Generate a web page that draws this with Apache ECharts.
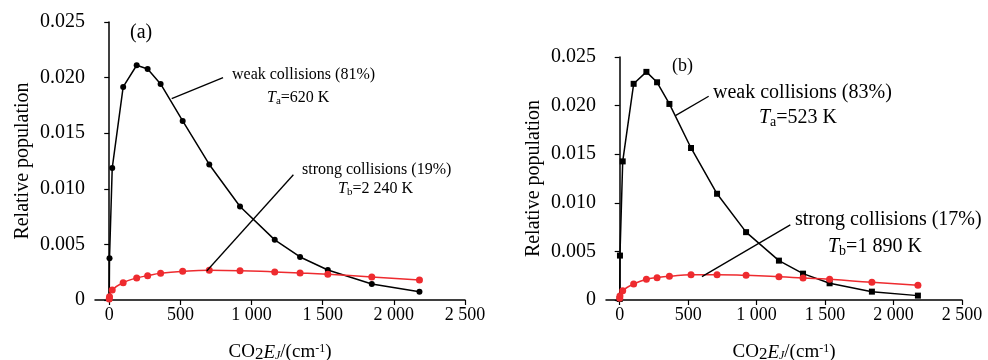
<!DOCTYPE html>
<html>
<head>
<meta charset="utf-8">
<script src="https://cdn.jsdelivr.net/npm/echarts@6/dist/echarts.min.js"></script>
<style>
  html, body { margin: 0; padding: 0; background: #fff; }
  #chart { width: 988px; height: 360px; }
</style>
</head>
<body>
<div id="chart"></div>
<script>
  // rotational energies (cm-1) and populations
  var energyA = [0, 2, 21, 98, 193, 270, 361, 516, 703, 919, 1163, 1341, 1536, 1845, 2180];
  var weakA = [0.0001, 0.00376, 0.01186, 0.01916, 0.02111, 0.02078, 0.01943, 0.0161, 0.01219, 0.00841, 0.00541, 0.00387, 0.0027, 0.00144, 0.00075];
  var strongA = [0.0001, 0.0003, 0.0009, 0.00156, 0.00198, 0.00219, 0.0024, 0.00258, 0.00267, 0.00264, 0.00252, 0.00243, 0.00231, 0.00207, 0.0018];

  var energyB = [0, 2, 22, 102, 195, 273, 363, 521, 711, 923, 1163, 1339, 1533, 1842, 2178];
  var weakB = [0.0001, 0.00457, 0.01426, 0.02224, 0.02347, 0.0224, 0.02017, 0.01564, 0.01093, 0.00698, 0.00405, 0.00271, 0.00172, 0.00086, 0.00045];
  var strongB = [0.00017, 0.0004, 0.00096, 0.00165, 0.00213, 0.0023, 0.00244, 0.00261, 0.00261, 0.00254, 0.0024, 0.00227, 0.00213, 0.00182, 0.00151];

  var xTicks = [0, 500, 1000, 1500, 2000, 2500];

  var FONT = 'Liberation Serif';
  var RED = '#ee2b2f';

  function pairs(xs, ys) {
    return xs.map(function (x, i) { return [x, ys[i]]; });
  }

  function fmtX(v) {
    return String(v).replace(/(\d)(\d{3})$/, '$1 $2');
  }

  function fmtY(v) {
    return v === 0 ? '0' : v.toFixed(3);
  }

  function xAxisOf(idx) {
    return {
      gridIndex: idx,
      type: 'value',
      min: -100,
      max: 2500,
      splitLine: { show: false },
      axisLine: { onZero: false, lineStyle: { color: '#000', width: 1.5 } },
      axisTick: { customValues: xTicks, length: 5, lineStyle: { color: '#000', width: 1.2 } },
      axisLabel: { customValues: xTicks, formatter: fmtX, color: '#000', fontFamily: FONT, fontSize: 18, margin: 6 },
      name: '{n|CO}{s|2}{i|E}{is|J}{n|/(cm}{sup|-1}{n|)}',
      nameLocation: 'middle',
      nameGap: 42,
      nameTextStyle: {
        rich: {
          n: { fontFamily: FONT, fontSize: 19, color: '#000' },
          s: { fontFamily: FONT, fontSize: 17, color: '#000', padding: [4, 0, 0, 0] },
          i: { fontFamily: FONT, fontSize: 19, fontStyle: 'italic', color: '#000' },
          is: { fontFamily: FONT, fontSize: 12, fontStyle: 'italic', color: '#000', padding: [7, 0, 0, 0] },
          sup: { fontFamily: FONT, fontSize: 12, color: '#000', padding: [0, 0, 8, 0] }
        }
      }
    };
  }

  function yAxisOf(idx) {
    return {
      gridIndex: idx,
      type: 'value',
      min: 0,
      max: 0.025,
      interval: 0.005,
      splitLine: { show: false },
      axisLine: { show: true, lineStyle: { color: '#000', width: 1.5 } },
      axisTick: { show: true, length: 5, lineStyle: { color: '#000', width: 1.2 } },
      axisLabel: { formatter: fmtY, color: '#000', fontFamily: FONT, fontSize: 20, margin: 10 },
      name: 'Relative population',
      nameLocation: 'middle',
      nameRotate: 90,
      nameGap: 62,
      nameTextStyle: { fontFamily: FONT, fontSize: 20, color: '#000' }
    };
  }

  function leader(from, to) {
    return {
      silent: true,
      symbol: 'none',
      lineStyle: { color: '#000', width: 1.3, type: 'solid' },
      label: { show: false },
      animation: false,
      data: [[{ coord: from }, { coord: to }]]
    };
  }

  var myChart = echarts.init(document.getElementById('chart'));

  var option = {
    backgroundColor: '#fff',
    animation: false,
    grid: [
      { left: 95, top: 22, width: 370, height: 278, outerBoundsMode: 'none' },
      { left: 606, top: 57, width: 356, height: 243, outerBoundsMode: 'none' }
    ],
    xAxis: [xAxisOf(0), xAxisOf(1)],
    yAxis: [yAxisOf(0), yAxisOf(1)],
    series: [
      {
        type: 'line', xAxisIndex: 0, yAxisIndex: 0,
        data: pairs(energyA, weakA),
        symbol: 'circle', symbolSize: 6,
        itemStyle: { color: '#000' },
        lineStyle: { color: '#000', width: 1.5 },
        markLine: leader([439, 0.01811], [800, 0.0200])
      },
      {
        type: 'line', xAxisIndex: 0, yAxisIndex: 0,
        data: pairs(energyA, strongA),
        smooth: true,
        symbol: 'circle', symbolSize: 7,
        itemStyle: { color: RED },
        lineStyle: { color: RED, width: 1.5 },
        markLine: leader([685, 0.00261], [1294, 0.01126])
      },
      {
        type: 'line', xAxisIndex: 1, yAxisIndex: 1,
        data: pairs(energyB, weakB),
        symbol: 'rect', symbolSize: 6,
        itemStyle: { color: '#000' },
        lineStyle: { color: '#000', width: 1.5 },
        markLine: leader([407, 0.01897], [650, 0.02096])
      },
      {
        type: 'line', xAxisIndex: 1, yAxisIndex: 1,
        data: pairs(energyB, strongB),
        smooth: true,
        symbol: 'circle', symbolSize: 7,
        itemStyle: { color: RED },
        lineStyle: { color: RED, width: 1.5 },
        markLine: leader([601, 0.0024], [1246, 0.00773])
      }
    ]
  };

  function note(x, y, text, size) {
    return {
      type: 'text', left: x, top: y - size * 0.5,
      style: {
        text: text,
        fill: '#000',
        fontFamily: FONT,
        fontSize: size,
        rich: {
          i: { fontFamily: FONT, fontSize: size, fontStyle: 'italic' },
          s: { fontFamily: FONT, fontSize: Math.round(size * 0.7), padding: [Math.round(size * 0.45), 0, 0, 0] },
          n: { fontFamily: FONT, fontSize: size }
        }
      }
    };
  }

  option.graphic = [
    note(130, 33, '{n|(a)}', 20),
    note(672, 66, '{n|(b)}', 18),
    note(232, 75, '{n|weak collisions (81%)}', 16),
    note(267, 98, '{i|T}{s|a}{n|=620 K}', 16),
    note(302, 170, '{n|strong collisions (19%)}', 16),
    note(338, 189, '{i|T}{s|b}{n|=2 240 K}', 16),
    note(713, 93, '{n|weak collisions (83%)}', 20),
    note(759, 118, '{i|T}{s|a}{n|=523 K}', 20),
    note(795, 220, '{n|strong collisions (17%)}', 20),
    note(828, 247, '{i|T}{s|b}{n|=1 890 K}', 20)
  ];

  myChart.setOption(option);
</script>
</body>
</html>
